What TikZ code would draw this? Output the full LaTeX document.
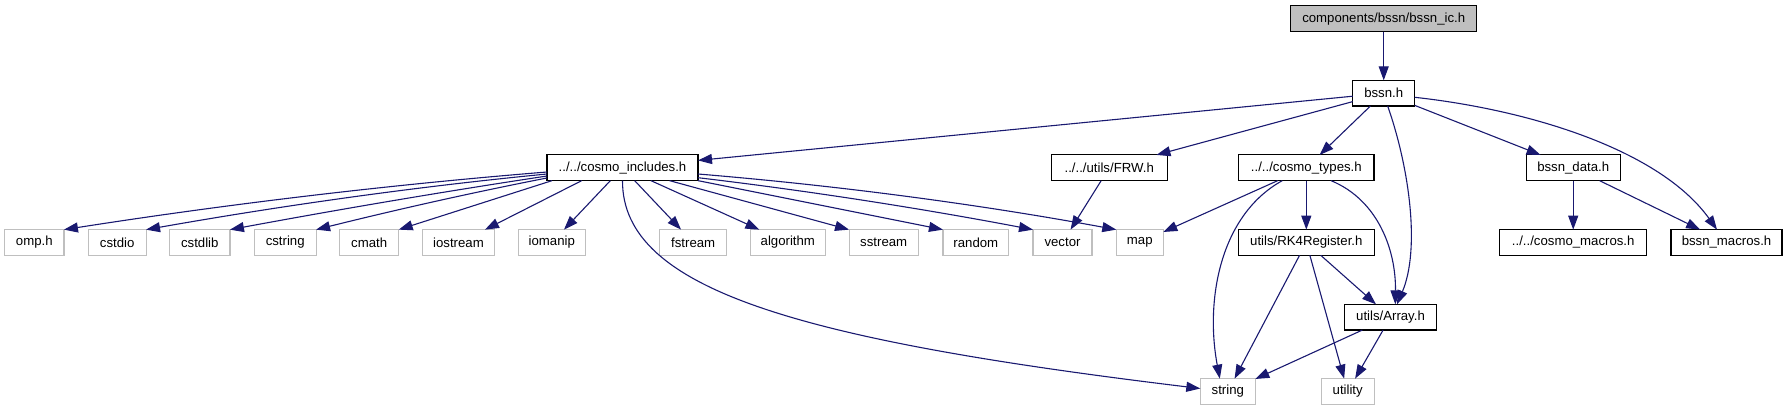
\documentclass[tikz,border=0pt]{standalone}
\usepackage{fontspec}
\setmainfont{Liberation Sans}
\usetikzlibrary{arrows.meta,calc}
\definecolor{edgeblue}{RGB}{25,25,112}
\definecolor{greyline}{RGB}{191,191,191}
\begin{document}
\begin{tikzpicture}[x=1pt,y=-1pt,
  every node/.style={font=\fontsize{13.2}{15}\selectfont},
  box/.style={rectangle, draw=black, line width=1.1pt, fill=white, minimum height=25.7pt, inner sep=0pt, outer sep=0pt},
  sysbox/.style={box, draw=greyline},
  topbox/.style={box, fill=greyline},
  e/.style={draw=edgeblue, line width=1.1pt, -{Triangle[length=14pt,width=10pt]}}
]
\useasboundingbox (0,0) rectangle (1787,411);

% row 0 / 1
\node[topbox, minimum width=186pt] (bssnic) at (1383.7,18.7) {components/bssn/bssn\_ic.h};
\node[box, minimum width=62pt] (bssn) at (1383.7,93.2) {bssn.h};
% row 2
\node[box, minimum width=151pt] (ci) at (622.5,167.8) {../../cosmo\_includes.h};
\node[box, minimum width=116.3pt] (frw) at (1109.2,167.8) {../../utils/FRW.h};
\node[box, minimum width=135.3pt] (ctypes) at (1306.3,167.8) {../../cosmo\_types.h};
\node[box, minimum width=93.7pt] (bdata) at (1573.2,167.8) {bssn\_data.h};
% row 3
\node[sysbox, minimum width=59.3pt] (omp) at (34.3,242.5) {omp.h};
\node[sysbox, minimum width=57.7pt] (cstdio) at (117.2,242.5) {cstdio};
\node[sysbox, minimum width=60.3pt] (cstdlib) at (199.8,242.5) {cstdlib};
\node[sysbox, minimum width=61.7pt] (cstring) at (285.2,242.5) {cstring};
\node[sysbox, minimum width=59pt] (cmath) at (369.2,242.5) {cmath};
\node[sysbox, minimum width=72.4pt] (iostream) at (458.5,242.5) {iostream};
\node[sysbox, minimum width=67pt] (iomanip) at (551.8,242.5) {iomanip};
\node[sysbox, minimum width=67pt] (fstream) at (693.2,242.5) {fstream};
\node[sysbox, minimum width=75pt] (algorithm) at (787.8,242.5) {algorithm};
\node[sysbox, minimum width=69.3pt] (sstream) at (883.7,242.5) {sstream};
\node[sysbox, minimum width=65.7pt] (random) at (975.8,242.5) {random};
\node[sysbox, minimum width=59pt] (vector) at (1062.5,242.5) {vector};
\node[sysbox, minimum width=47pt] (map) at (1139.8,242.5) {map};
\node[box, minimum width=136pt] (rk4) at (1306.3,242.5) {utils/RK4Register.h};
\node[box, minimum width=147pt] (cmacros) at (1573.2,242.5) {../../cosmo\_macros.h};
\node[box, minimum width=111pt] (bmacros) at (1726.5,242.5) {bssn\_macros.h};
% row 4 / 5
\node[box, minimum width=92.4pt] (array) at (1390.5,317.2) {utils/Array.h};
\node[sysbox, minimum width=55pt] (string) at (1227.8,391.5) {string};
\node[sysbox, minimum width=53.3pt] (utility) at (1347.7,391.5) {utility};

% edges from bssn_ic and bssn
\draw[e] (bssnic) -- (bssn);
\draw[e] (bssn) -- (ci);
\draw[e] (bssn) -- (frw);
\draw[e] (bssn) -- (ctypes);
\draw[e] ([xshift=4pt]bssn.south) .. controls (1410,170) and (1420,250) .. ([xshift=6.5pt]array.north);
\draw[e] (bssn) -- (bdata);
\draw[e] ([yshift=-4.1pt]bssn.east) .. controls (1530,110) and (1660,150) .. ([xshift=-9.5pt]bmacros.north);

% edges from cosmo_includes
\draw[e] ([yshift=-4.2pt]ci.west) .. controls (386,185) and (225,204.5) .. (omp.north east);
\draw[e] ([yshift=-6.2pt]ci.west) .. controls (413,187) and (280,206) .. (cstdio.north east);
\draw[e] ([yshift=-8.2pt]ci.west) .. controls (441,192) and (336,210) .. (cstdlib.north east);
\draw[e] ([yshift=-10.2pt]ci.west) .. controls (470,193) and (393,210.5) .. (cstring.north east);
\draw[e] ([xshift=5pt]ci.south west) -- (cmath.north east);
\draw[e] ([xshift=-40.8pt]ci.south) -- ([xshift=26.5pt]iostream.north);
\draw[e] (ci) -- (iomanip);
\draw[e] (ci.south) .. controls (622,290) and (800,340) .. ([yshift=3pt]string.west);
\draw[e] (ci) -- (fstream);
\draw[e] (ci) -- (algorithm);
\draw[e] (ci) -- (sstream.north west);
\draw[e] (ci.south east) -- (random.north west);
\draw[e] ([yshift=-9.9pt]ci.east) .. controls (810,191) and (921,208.4) .. (vector.north west);
\draw[e] ([yshift=-6.2pt]ci.east) .. controls (838,185.6) and (977,204) .. (map.north west);

% other edges
\draw[e] (frw) -- (vector);
\draw[e] (ctypes) -- (map);
\draw[e] ([xshift=-24pt]ctypes.south) .. controls (1220,215) and (1205,300) .. ([xshift=-8pt]string.north);
\draw[e] (ctypes) -- (rk4);
\draw[e] ([xshift=24.7pt]ctypes.south) .. controls (1378,200) and (1396,250) .. ([xshift=4.8pt]array.north);
\draw[e] (rk4) -- (string);
\draw[e] (rk4) -- (utility);
\draw[e] (rk4) -- (array);
\draw[e] (array) -- (string);
\draw[e] (array) -- (utility);
\draw[e] (bdata) -- (cmacros);
\draw[e] (bdata) -- (bmacros);
\end{tikzpicture}
\end{document}
